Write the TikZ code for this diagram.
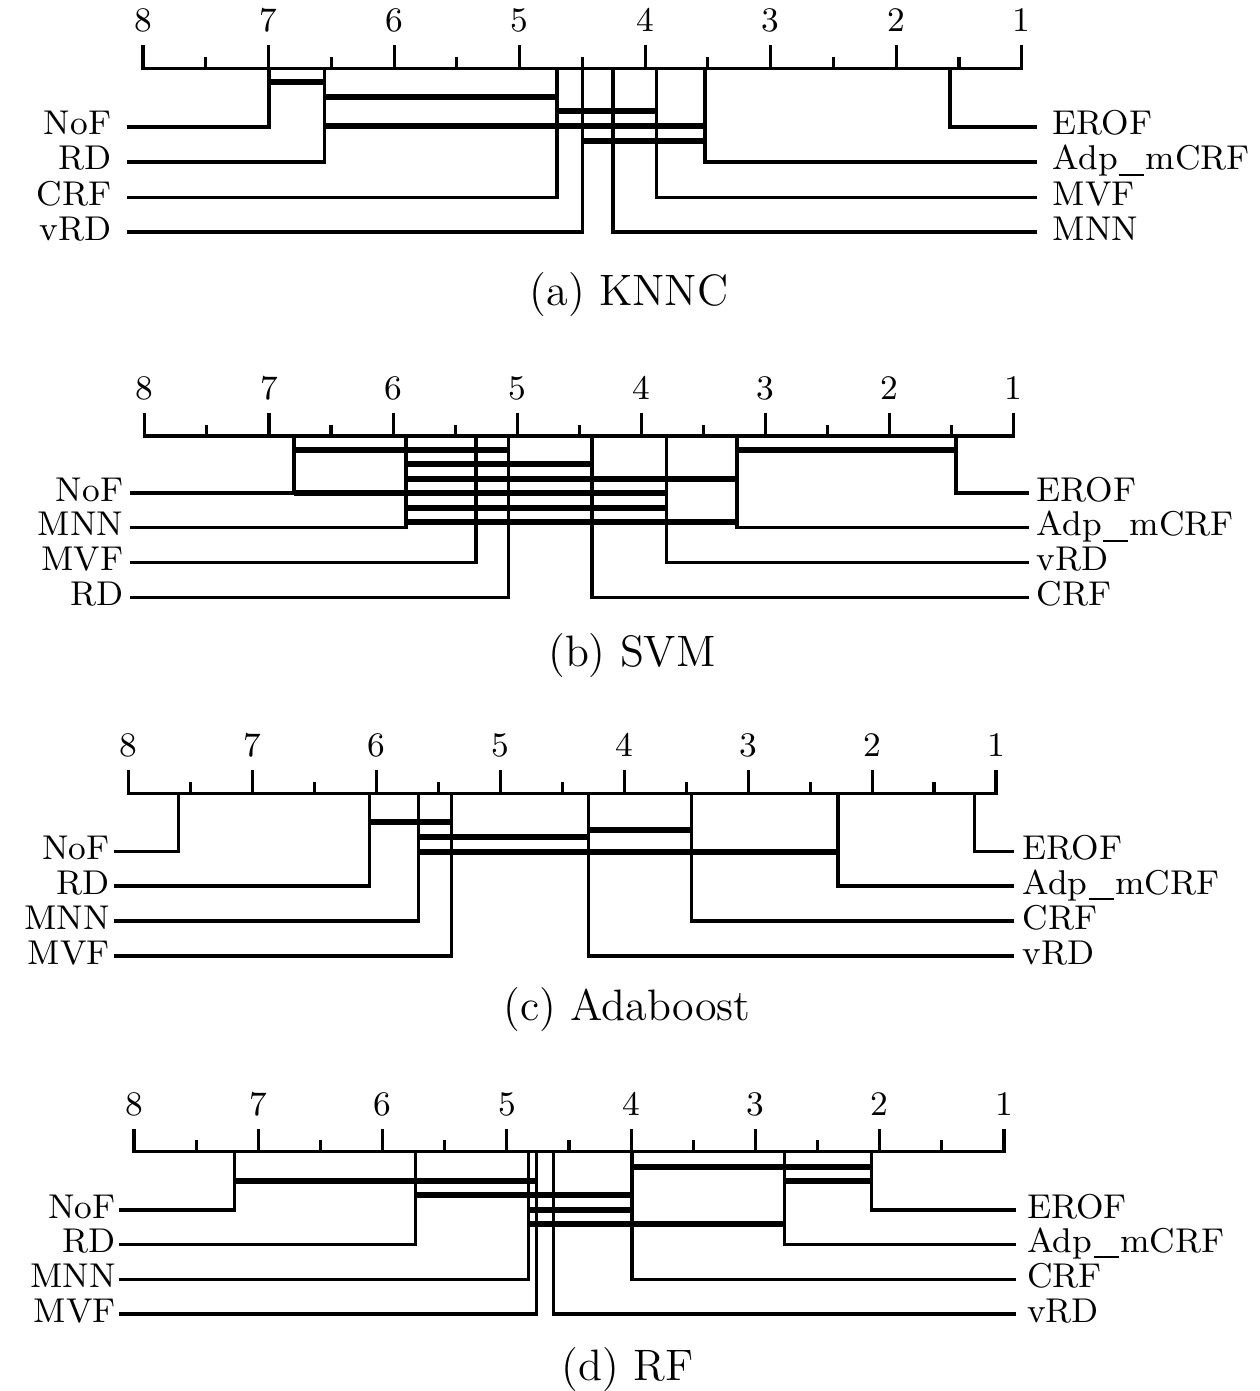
\documentclass[tikz,border=0pt]{standalone}
\newcommand\labfont{\fontsize{8.6}{10}\selectfont}
\newcommand\capfont{\fontsize{11}{13}\selectfont}
\newcommand\us{\kern0.04em\rule[-0.17em]{0.74em}{0.055em}\kern0.04em}
\tikzset{
  thinln/.style={line width=0.78pt},
  barln/.style={line width=1.5pt},
  lab/.style={inner sep=0pt, font=\labfont},
  capt/.style={inner sep=0pt, font=\capfont}
}
% axis: x of rank 8, x of rank 1, y, prefix
\newcommand\cdaxis[4]{%
  \draw[thinln] (#1,#3-23) -- (#1,#3) -- (#2,#3) -- (#2,#3-23);
  \foreach \i in {0,...,7}{%
    \pgfmathsetmacro\xx{#1+\i*(#2-#1)/7}%
    \pgfmathtruncatemacro\lbl{8-\i}%
    \draw[thinln] (\xx,#3) -- (\xx,#3-23);
    \node[lab,anchor=base] (#4t\lbl) at (\xx,#3-36.5) {\lbl};
  }%
  \foreach \i in {0,...,6}{%
    \pgfmathsetmacro\xx{#1+(\i+0.5)*(#2-#1)/7}%
    \draw[thinln] (\xx,#3) -- (\xx,#3-11.5);
  }%
}
% rows: name, x of vertical, y of row, text
\newcommand\lrow[4]{%
  \draw[thinln] (#2,\axy) |- (\lstart,#3);
  \node[lab,anchor=base east] (#1) at (\ltext,#3+8) {#4};
}
\newcommand\rrow[4]{%
  \draw[thinln] (#2,\axy) |- (\rend,#3);
  \node[lab,anchor=base west] (#1) at (\rtext,#3+8) {#4};
}
\newcommand\cdbar[3]{\draw[barln] (#1,#3) -- (#2,#3);}
\begin{document}
\begin{tikzpicture}[x=0.25pt,y=-0.25pt]
\useasboundingbox (0,0) rectangle (1260,1391);
\fill[white] (0,0) rectangle (1260,1391);

% ---------------- (a) KNNC
\def\axy{68.3}\def\lstart{127}\def\ltext{112}\def\rend{1036.5}\def\rtext{1052}
\cdaxis{143}{1021.7}{68.3}{a}
\lrow{aNoF}{269}{127}{NoF}
\lrow{aRD}{324.5}{162}{RD}
\lrow{aCRF}{557}{197.5}{CRF}
\lrow{avRD}{582.5}{232}{vRD}
\rrow{aMNN}{613}{232}{MNN}
\rrow{aMVF}{656.5}{197.5}{MVF}
\rrow{aAdp}{705}{162}{Adp\us mCRF}
\rrow{aEROF}{950}{127}{EROF}
\cdbar{269}{324.5}{82}
\cdbar{324.5}{557}{97}
\cdbar{557}{656.5}{111.5}
\cdbar{324.5}{705}{126.5}
\cdbar{582.5}{705}{141}
\node[capt,anchor=base] (capa) at (629,305) {(a) KNNC};

% ---------------- (b) SVM
\def\axy{436}\def\lstart{130}\def\ltext{124}\def\rend{1029}\def\rtext{1036}
\cdaxis{144.8}{1013.8}{436}{b}
\lrow{bNoF}{294}{493}{NoF}
\lrow{bMNN}{406}{527.7}{MNN}
\lrow{bMVF}{476}{562.5}{MVF}
\lrow{bRD}{508.8}{597.5}{RD}
\rrow{bCRF}{592}{597.5}{CRF}
\rrow{bvRD}{666.6}{562.5}{vRD}
\rrow{bAdp}{737}{527.7}{Adp\us mCRF}
\rrow{bEROF}{956}{493}{EROF}
\cdbar{294}{508.8}{450}
\cdbar{737}{956}{450}
\cdbar{406}{592}{464}
\cdbar{406}{737}{479}
\cdbar{294}{666.6}{493}
\cdbar{406}{666.6}{507.5}
\cdbar{406}{737}{522}
\node[capt,anchor=base] (capb) at (632,666) {(b) SVM};

% ---------------- (c) Adaboost
\def\axy{793.3}\def\lstart{113.5}\def\ltext{110.5}\def\rend{1013.7}\def\rtext{1021.7}
\cdaxis{128.5}{996}{793.3}{c}
\lrow{cNoF}{178.3}{851.7}{NoF}
\lrow{cRD}{369.4}{886}{RD}
\lrow{cMNN}{418.8}{921}{MNN}
\lrow{cMVF}{451.3}{956}{MVF}
\rrow{cvRD}{588.5}{956}{vRD}
\rrow{cCRF}{691.3}{921}{CRF}
\rrow{cAdp}{838}{886}{Adp\us mCRF}
\rrow{cEROF}{974.5}{851.7}{EROF}
\cdbar{369.4}{451.3}{822.3}
\cdbar{588.5}{691.3}{830}
\cdbar{418.8}{588.5}{837.3}
\cdbar{418.8}{838}{851.7}
\node[capt,anchor=base] (capc) at (627,1020) {(c) Adaboost};

% ---------------- (d) RF
\def\axy{1151.5}\def\lstart{119}\def\ltext{116.5}\def\rend{1016}\def\rtext{1026.5}
\cdaxis{134}{1004}{1151.5}{d}
\lrow{dNoF}{234.5}{1210}{NoF}
\lrow{dRD}{415.5}{1244.5}{RD}
\lrow{dMNN}{528.3}{1279.5}{MNN}
\lrow{dMVF}{536.7}{1314}{MVF}
\rrow{dvRD}{553.3}{1314}{vRD}
\rrow{dCRF}{632}{1279.5}{CRF}
\rrow{dAdp}{784.5}{1244.5}{Adp\us mCRF}
\rrow{dEROF}{871.7}{1210}{EROF}
\cdbar{632}{871.7}{1166.7}
\cdbar{234.5}{536.7}{1181}
\cdbar{784.5}{871.7}{1181}
\cdbar{415.5}{632}{1195}
\cdbar{528.3}{632}{1210}
\cdbar{528.3}{784.5}{1224.3}
\node[capt,anchor=base] (capd) at (627.5,1380) {(d) RF};
\end{tikzpicture}
\end{document}
